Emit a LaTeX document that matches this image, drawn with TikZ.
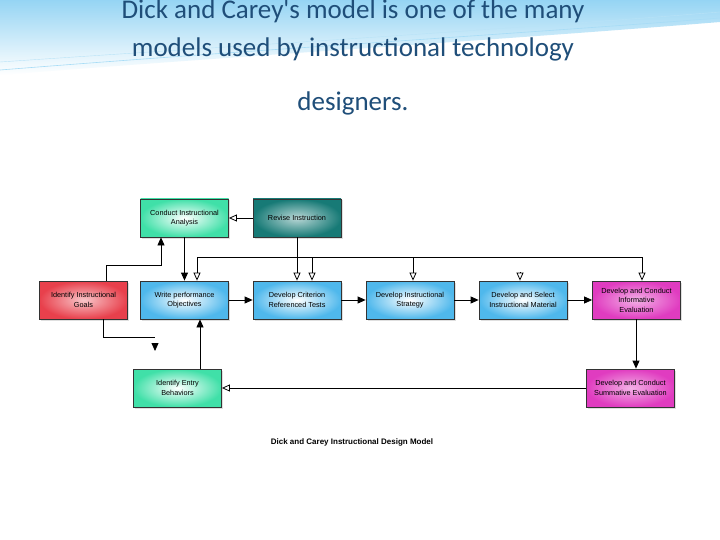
\documentclass[tikz,border=0pt]{standalone}
\usepackage{fontspec}
\setmainfont{Liberation Sans}
\newfontfamily\titlefont{Carlito}
\usetikzlibrary{arrows.meta,shadows}
\definecolor{tblue}{HTML}{1F4E79}
\definecolor{cblue}{HTML}{4FB8EC}
\definecolor{cgreen}{HTML}{40E0A8}
\definecolor{cred}{HTML}{E8404C}
\definecolor{cmag}{HTML}{E03CC0}
\definecolor{cteal}{HTML}{177A76}
\begin{document}
\begin{tikzpicture}[x=1pt,y=-1pt,
  box/.style={draw=black!80,line width=0.8pt,minimum width=88pt,minimum height=38pt,align=center,inner sep=1pt,
    font=\fontsize{7.3}{9.5}\selectfont,drop shadow={opacity=0.25,shadow xshift=1.5pt,shadow yshift=-1.5pt}},
  bl/.style={box,inner color=white,outer color=cblue},
  gr/.style={box,inner color=white,outer color=cgreen},
  rd/.style={box,inner color=white!70!cred,outer color=cred},
  mg/.style={box,inner color=white!60!cmag,outer color=cmag},
  tl/.style={box,inner color=white!70!cteal,outer color=cteal},
  fa/.style={-{Triangle[length=8pt,width=7pt]},line width=0.8pt},
  ha/.style={-{Triangle[open,length=8pt,width=7pt]},line width=0.8pt}]
\useasboundingbox (0,0) rectangle (720,540);
\fill[white] (0,0) rectangle (720,540);
% top swoosh
\shade[top color=cblue!60,bottom color=white] (0,0) -- (720,0) -- (720,22) .. controls (500,40) and (250,55) .. (0,75) -- cycle;
\draw[cblue!50,line width=0.6pt] (0,70) .. controls (250,50) and (500,35) .. (720,18);
\draw[cblue!40,line width=0.4pt] (0,62) .. controls (250,45) and (500,30) .. (720,12);
\node[font=\titlefont\fontsize{27}{38}\selectfont,text=tblue,align=center] (title) at (353,30)
  {Dick and Carey's model is one of the many\\models used by instructional technology};
\node[font=\titlefont\fontsize{27}{30}\selectfont,text=tblue] (title2) at (353,103) {designers.};
\fill[white] (36,196) rectangle (684,452);
\node[bl] (write) at (184.5,300) {Write performance\\Objectives};
\node[gr] (conduct) at (184.5,218) {Conduct Instructional\\Analysis};
\node[tl] (revise) at (297,218) {Revise Instruction};
\node[rd] (goals) at (83.5,300) {Identify Instructional\\Goals};
\node[bl] (crit) at (297,300) {Develop Criterion\\Referenced Tests};
\node[bl] (strat) at (410,300) {Develop Instructional\\Strategy};
\node[bl] (mat) at (523,300) {Develop and Select\\Instructional Material};
\node[mg] (inf) at (636.5,300) {Develop and Conduct\\Informative\\Evaluation};
\node[gr] (entry) at (177.5,388) {Identify Entry\\Behaviors};
\node[mg] (sum) at (630.5,388) {Develop and Conduct\\Summative Evaluation};
\node[font=\bfseries\fontsize{8}{10}\selectfont] (cap) at (352,442) {Dick and Carey Instructional Design Model};
% connectors
\draw[ha] (revise) -- (conduct);
\draw[fa] (goals.north -| 106,0) |- (161,265) -- (conduct.south -| 161,0);
\draw[fa] (conduct) -- (write);
\draw[line width=0.8pt] (goals.south -| 103,0) |- (155,337) coordinate (gend);
\coordinate (ga) at (155,345);
\draw[fa] (ga) -- ++(0,6);
\draw[fa] (entry.north -| 200,0) -- (write.south -| 200,0);
\draw[fa] (write) -- (crit);
\draw[fa] (crit) -- (strat);
\draw[fa] (strat) -- (mat);
\draw[fa] (mat) -- (inf);
\draw[ha] (revise) -- (crit);
\draw[line width=0.8pt] (197,257) -- (642,257);
\draw[ha] (197,257) -- (write.north -| 197,0);
\draw[ha] (312,257) -- (crit.north -| 312,0);
\draw[ha] (413,257) -- (strat.north -| 413,0);
\draw[ha] (642,257) -- (inf.north -| 642,0);
\draw[ha] (520,272) -- (mat.north -| 520,0);
\draw[fa] (inf.south -| 636,0) -- (sum.north -| 636,0);
\draw[ha] (sum) -- (entry);
\end{tikzpicture}
\end{document}
